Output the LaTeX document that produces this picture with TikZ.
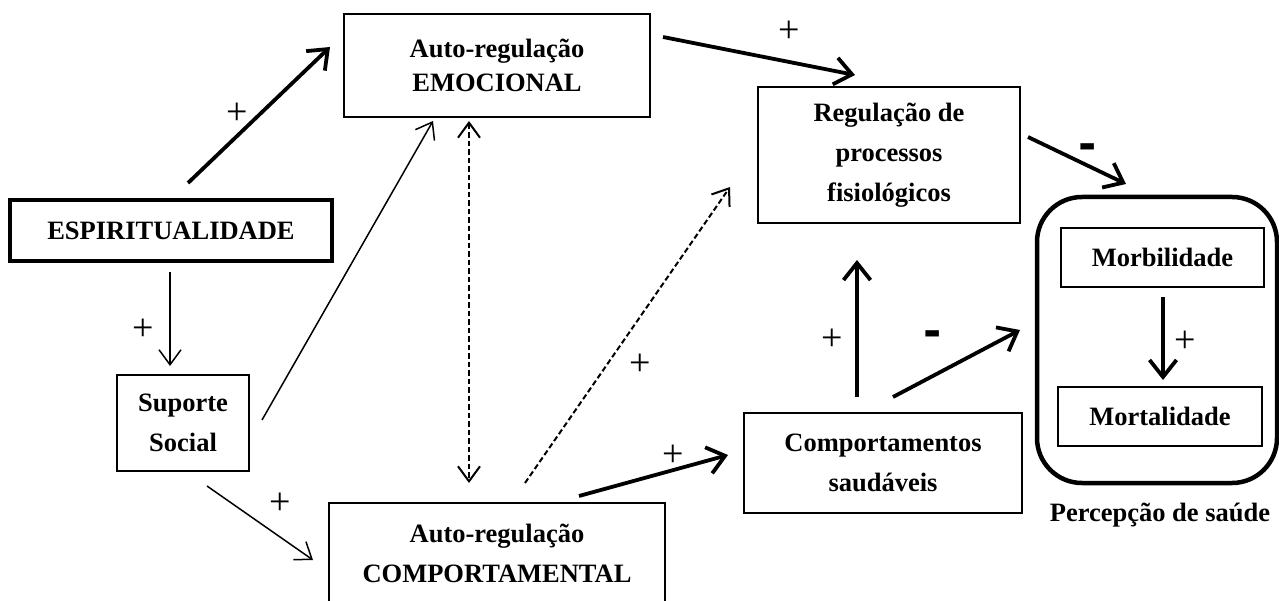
\documentclass[tikz,border=0pt]{standalone}
\usepackage{fontspec}
\setmainfont{Liberation Serif}
\newfontfamily\dashfont{DejaVu Sans}
\usetikzlibrary{arrows.meta}
\begin{document}
\begin{tikzpicture}[x=1pt,y=-1pt,
  box/.style={draw, line width=2pt, inner sep=0pt, align=center,
    font=\bfseries\fontsize{26.5}{40}\selectfont},
  thickarr/.style={line width=3.8pt, -{Straight Barb[length=17pt,width=27pt]}},
  thinarr/.style={line width=1.5pt, -{Straight Barb[length=15pt,width=22pt]}},
  dasharr/.style={line width=2pt, dash pattern=on 5.5pt off 3pt, -{Straight Barb[length=15pt,width=22pt]}},
  plus/.style={font=\fontsize{38}{38}\selectfont, inner sep=0pt},
  minus/.style={font=\dashfont\bfseries\fontsize{44}{44}\selectfont, inner sep=0pt}]
\useasboundingbox (0,0) rectangle (1279,601);
\fill[white] (0,0) rectangle (1279,601);

% nodes
\node[box, line width=4.5pt, minimum width=322pt, minimum height=61pt] (esp) at (171,230.5) {ESPIRITUALIDADE};
\node[box, line width=1.3pt, minimum width=132pt, minimum height=96pt] (sup) at (183,423) {Suporte\\Social};
\node[box, minimum width=306pt, minimum height=103pt, font=\bfseries\fontsize{26.5}{34}\selectfont] (emo) at (497,65.5) {Auto-regulação\\EMOCIONAL};
\node[box, minimum width=336pt, minimum height=100pt] (comp) at (497,553) {Auto-regulação\\COMPORTAMENTAL};
\node[box, minimum width=262pt, minimum height=136pt] (reg) at (889,155) {Regulação de\\processos\\fisiológicos};
\node[box, minimum width=278pt, minimum height=100pt] (cs) at (883,463) {Comportamentos\\saudáveis};
\node[draw, rounded corners=45pt, line width=4.5pt, minimum width=240pt, minimum height=286pt] (perc) at (1157,340) {};
\node[box, minimum width=203pt, minimum height=59pt] (morb) at (1162.5,257.5) {Morbilidade};
\node[box, minimum width=204pt, minimum height=59pt] (mort) at (1160,416.5) {Mortalidade};
\node[font=\bfseries\fontsize{26.5}{30}\selectfont, inner sep=0pt] (percl) at (1160,515) {Percepção de saúde};

% connector end points
\coordinate (a1s) at (188,183);  \coordinate (a1e) at (330,47);
\coordinate (a2s) at (170,272);  \coordinate (a2e) at (170,366);
\coordinate (a3s) at (262,420);  \coordinate (a3e) at (433,121);
\coordinate (a4s) at (469,121);  \coordinate (a4e) at (469,483);
\coordinate (a5s) at (525,483);  \coordinate (a5e) at (730,187);
\coordinate (a6s) at (207,486);  \coordinate (a6e) at (313,560);
\coordinate (a7s) at (579,496);  \coordinate (a7e) at (728,455);
\coordinate (a8s) at (663,37);   \coordinate (a8e) at (855,75);
\coordinate (a9s) at (1028,137); \coordinate (a9e) at (1126,184);
\coordinate (a10s) at (857,397); \coordinate (a10e) at (857,260);
\coordinate (a11s) at (893,397); \coordinate (a11e) at (1020,330);
\coordinate (a12s) at (1163,297);\coordinate (a12e) at (1163,380);

% connectors
\draw[thickarr] (a1s) -- (a1e);
\draw[thinarr] (a2s) -- (a2e);
\draw[thinarr] (a3s) -- (a3e);
\draw[dasharr, {Straight Barb[length=15pt,width=22pt]}-{Straight Barb[length=15pt,width=22pt]}] (a4s) -- (a4e);
\draw[dasharr] (a5s) -- (a5e);
\draw[thinarr] (a6s) -- (a6e);
\draw[thickarr] (a7s) -- (a7e);
\draw[thickarr] (a8s) -- (a8e);
\draw[thickarr] (a9s) -- (a9e);
\draw[thickarr] (a10s) -- (a10e);
\draw[thickarr] (a11s) -- (a11e);
\draw[thickarr] (a12s) -- (a12e);

% labels
\node[plus] (p1) at (237,114) {+};
\node[plus] (p2) at (143,330) {+};
\node[plus] (p5) at (640,365) {+};
\node[plus] (p6) at (280,504) {+};
\node[plus] (p7) at (673,456) {+};
\node[plus] (p8) at (789,32) {+};
\node[plus] (p10) at (832,340) {+};
\node[plus] (p12) at (1185,342) {+};
\node[minus] (m9) at (1088,152) {-};
\node[minus] (m11) at (933,339) {-};
\end{tikzpicture}
\end{document}
